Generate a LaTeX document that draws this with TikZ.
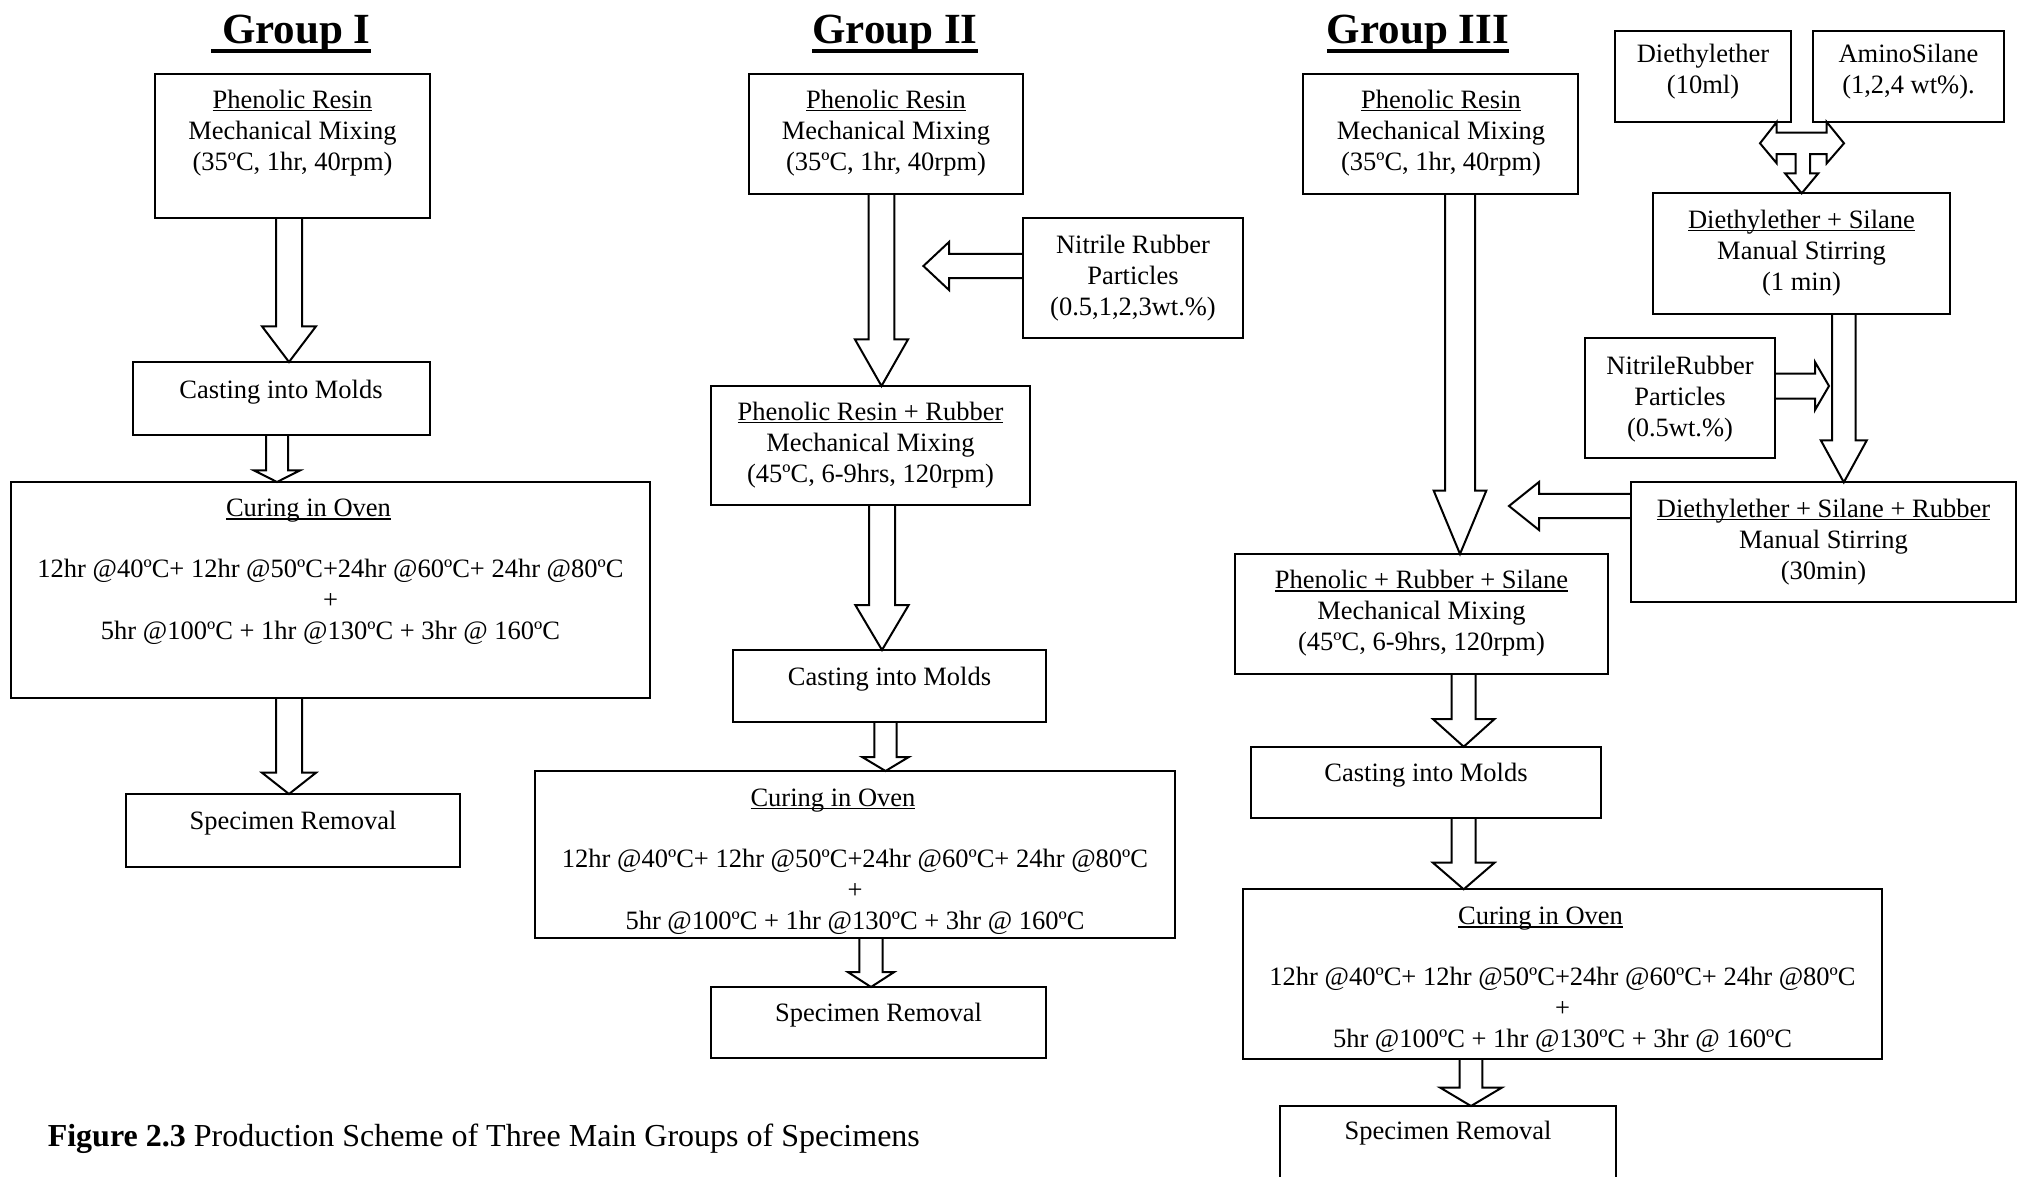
\documentclass[tikz,border=0pt]{standalone}
\usepackage{fontspec}
\setmainfont{Liberation Serif}
\usetikzlibrary{calc}
\newcommand\myul[1]{\setbox0=\hbox{#1}\rlap{\rule[-0.11em]{\wd0}{0.06em}}\box0}
\newcommand\myult[1]{\setbox0=\hbox{#1}\rlap{\rule[-0.23em]{\wd0}{0.09em}}\box0}
\newcommand\boxnode[5]{\node[bx, minimum width={(#4-#2)*1pt}, minimum height={(#5-#3)*1pt}] (#1) at ({(#2+#4)/2},{(#3+#5)/2}) {};}
% down arrow: from anchor, to anchor, x centre, shaft half width, head half width, head length
\newcommand\darr[6]{\draw[blk] let \p1=(#1), \p2=(#2) in
 ({(#3-#4)*1pt},\y1) -- ({(#3-#4)*1pt},{\y2+#6pt}) -- ({(#3-#5)*1pt},{\y2+#6pt}) -- ({#3*1pt},\y2)
 -- ({(#3+#5)*1pt},{\y2+#6pt}) -- ({(#3+#4)*1pt},{\y2+#6pt}) -- ({(#3+#4)*1pt},\y1);}
% left arrow: from anchor, tip coordinate, shaft half, head half, head length
\newcommand\larr[5]{\draw[blk] let \p1=(#1), \p2=(#2) in
 (\x1,{\y2+#3pt}) -- ({\x2+#5pt},{\y2+#3pt}) -- ({\x2+#5pt},{\y2+#4pt}) -- (\x2,\y2)
 -- ({\x2+#5pt},{\y2-#4pt}) -- ({\x2+#5pt},{\y2-#3pt}) -- (\x1,{\y2-#3pt});}
\newcommand\rarr[5]{\draw[blk] let \p1=(#1), \p2=(#2) in
 (\x1,{\y2+#3pt}) -- ({\x2-#5pt},{\y2+#3pt}) -- ({\x2-#5pt},{\y2+#4pt}) -- (\x2,\y2)
 -- ({\x2-#5pt},{\y2-#4pt}) -- ({\x2-#5pt},{\y2-#3pt}) -- (\x1,{\y2-#3pt});}
\begin{document}
\begin{tikzpicture}[x=1pt,y=-1pt,
  bx/.style={draw, line width=2pt, inner sep=0pt, outer sep=0pt},
  blk/.style={draw, line width=2pt, line join=miter},
  txt/.style={align=center, inner sep=0pt, font=\fontsize{26.5}{31}\selectfont},
  ttl/.style={anchor=base, inner sep=0pt, font=\fontsize{43}{50}\selectfont\bfseries},
  captext/.style={anchor=base west, inner sep=0pt, font=\fontsize{32}{36}\selectfont}]
\useasboundingbox (0,0) rectangle (2018,1176);
\clip (0,0) rectangle (2018,1176);
\fill[white] (0,0) rectangle (2018,1176);

% titles
\node[ttl] (T1) at (291,43) {\myult{\ Group I}};
\node[ttl] (T2) at (895,43) {\myult{Group II}};
\node[ttl] (T3) at (1418,43) {\myult{Group III}};

% ---------- Group I ----------
\boxnode{A1}{155}{74}{430}{218}
\boxnode{B1}{133}{362}{430}{435}
\boxnode{C1}{11}{482}{650}{698}
\boxnode{D1}{126}{794}{460}{867}
\node[txt] (A1t) at (292.5,133) {\myul{Phenolic Resin}\\Mechanical Mixing\\(35ºC, 1hr, 40rpm)};
\node[txt] (B1t) at (281,392) {Casting into Molds};
\node[txt] (C1t) at (330.5,572) {\myul{Curing in Oven}\hspace*{44pt}\\[30pt]12hr @40ºC+ 12hr @50ºC+24hr @60ºC+ 24hr @80ºC\\+\\5hr @100ºC + 1hr @130ºC + 3hr @ 160ºC};
\node[txt] (D1t) at (293,823.5) {Specimen Removal};
\darr{A1.south}{B1.north}{289}{13}{27}{35.7}
\darr{B1.south}{C1.north}{277}{11}{23}{11.6}
\darr{C1.south}{D1.north}{289}{13}{27}{21.3}

% ---------- Group II ----------
\boxnode{A2}{749}{74}{1023}{194}
\boxnode{N2}{1023}{218}{1243}{338}
\boxnode{B2}{711}{386}{1030}{505}
\boxnode{E2}{733}{650}{1046}{722}
\boxnode{C2}{535}{771}{1175}{938}
\boxnode{D2}{711}{987}{1046}{1058}
\node[txt] (A2t) at (886,133) {\myul{Phenolic Resin}\\Mechanical Mixing\\(35ºC, 1hr, 40rpm)};
\node[txt] (N2t) at (1133,278) {Nitrile Rubber\\Particles\\(0.5,1,2,3wt.\%)};
\node[txt] (B2t) at (870.5,445) {\myul{Phenolic Resin + Rubber}\\Mechanical Mixing\\(45ºC, 6-9hrs, 120rpm)};
\node[txt] (E2t) at (889.5,679) {Casting into Molds};
\node[txt] (C2t) at (855,861.5) {\myul{Curing in Oven}\hspace*{44pt}\\[30pt]12hr @40ºC+ 12hr @50ºC+24hr @60ºC+ 24hr @80ºC\\+\\5hr @100ºC + 1hr @130ºC + 3hr @ 160ºC};
\node[txt] (D2t) at (878.5,1015) {Specimen Removal};
\coordinate (tipN2) at (923.4,266);
\darr{A2.south}{B2.north}{881.5}{12.8}{26.6}{46.7}
\larr{N2.west}{tipN2}{12.2}{24}{25.6}
\darr{B2.south}{E2.north}{882}{13}{26.7}{45}
\darr{E2.south}{C2.north}{885.5}{11.2}{23.3}{14}
\darr{C2.south}{D2.north}{871}{11.7}{23.2}{15}

% ---------- Group III ----------
\boxnode{A3}{1303}{74}{1578}{194}
\boxnode{DE}{1615}{31}{1791}{122}
\boxnode{AS}{1813}{31}{2004}{122}
\boxnode{DS}{1653}{193.3}{1950}{314}
\boxnode{NR}{1585}{338}{1775}{458}
\boxnode{DR}{1631}{482.3}{2016}{602}
\boxnode{B3}{1235}{554}{1608}{674}
\boxnode{E3}{1251}{746.7}{1601}{818}
\boxnode{C3}{1243}{889.3}{1882}{1059}
\boxnode{D3}{1280}{1106}{1616}{1200}
\node[txt] (A3t) at (1441,133) {\myul{Phenolic Resin}\\Mechanical Mixing\\(35ºC, 1hr, 40rpm)};
\node[txt] (DEt) at (1703,71.5) {Diethylether\\(10ml)};
\node[txt] (ASt) at (1908.5,71.5) {AminoSilane\\(1,2,4 wt\%).};
\node[txt] (DSt) at (1801.5,253) {\myul{Diethylether + Silane}\\Manual Stirring\\(1 min)};
\node[txt] (NRt) at (1680,399) {NitrileRubber\\Particles\\(0.5wt.\%)};
\node[txt] (DRt) at (1823.5,542) {\myul{Diethylether + Silane + Rubber}\\Manual Stirring\\(30min)};
\node[txt] (B3t) at (1421.5,613.5) {\myul{Phenolic + Rubber + Silane}\\Mechanical Mixing\\(45ºC, 6-9hrs, 120rpm)};
\node[txt] (E3t) at (1426,775) {Casting into Molds};
\node[txt] (C3t) at (1562.5,980) {\myul{Curing in Oven}\hspace*{44pt}\\[30pt]12hr @40ºC+ 12hr @50ºC+24hr @60ºC+ 24hr @80ºC\\+\\5hr @100ºC + 1hr @130ºC + 3hr @ 160ºC};
\node[txt] (D3t) at (1448,1133.5) {Specimen Removal};
\coordinate (tipNR) at (1829,386);
\coordinate (tipDR) at (1509,506);
\darr{A3.south}{B3.north}{1460}{15}{26.3}{63.3}
\darr{DS.south}{DR.north}{1843.8}{11.8}{23}{42}
\rarr{NR.east}{tipNR}{12.5}{24}{14}
\larr{DR.west}{tipDR}{12.2}{24}{30}
\darr{B3.south}{E3.north}{1463.7}{12}{30.8}{27.7}
\darr{E3.south}{C3.north}{1463.7}{12}{30.8}{26.6}
\darr{C3.south}{D3.north}{1471}{11.4}{30.7}{18.3}
% T-shaped merge arrow
\draw[blk] let \p1=(DE.south), \p2=(DS.north) in
 (1776.7pt,\y1) -- (1776.7pt,{\y1-10.7pt}) -- (1826.7pt,{\y1-10.7pt}) -- (1826.7pt,\y1)
 -- (1844pt,{\y1-21.3pt}) -- (1826.7pt,{\y1-41.3pt}) -- (1826.7pt,{\y1-32pt}) -- (1810pt,{\y1-32pt})
 -- (1810pt,{\y2+20pt}) -- (1818.3pt,{\y2+20pt}) -- (1801.7pt,\y2) -- (1785pt,{\y2+20pt})
 -- (1795.7pt,{\y2+20pt}) -- (1795.7pt,{\y1-32pt}) -- (1776.7pt,{\y1-32pt}) -- (1776.7pt,{\y1-41.3pt})
 -- (1760pt,{\y1-21.3pt}) -- cycle;

% caption
\node[captext] (CAP) at (47.6,1146) {\textbf{Figure 2.3} Production Scheme of Three Main Groups of Specimens};
\end{tikzpicture}
\end{document}
